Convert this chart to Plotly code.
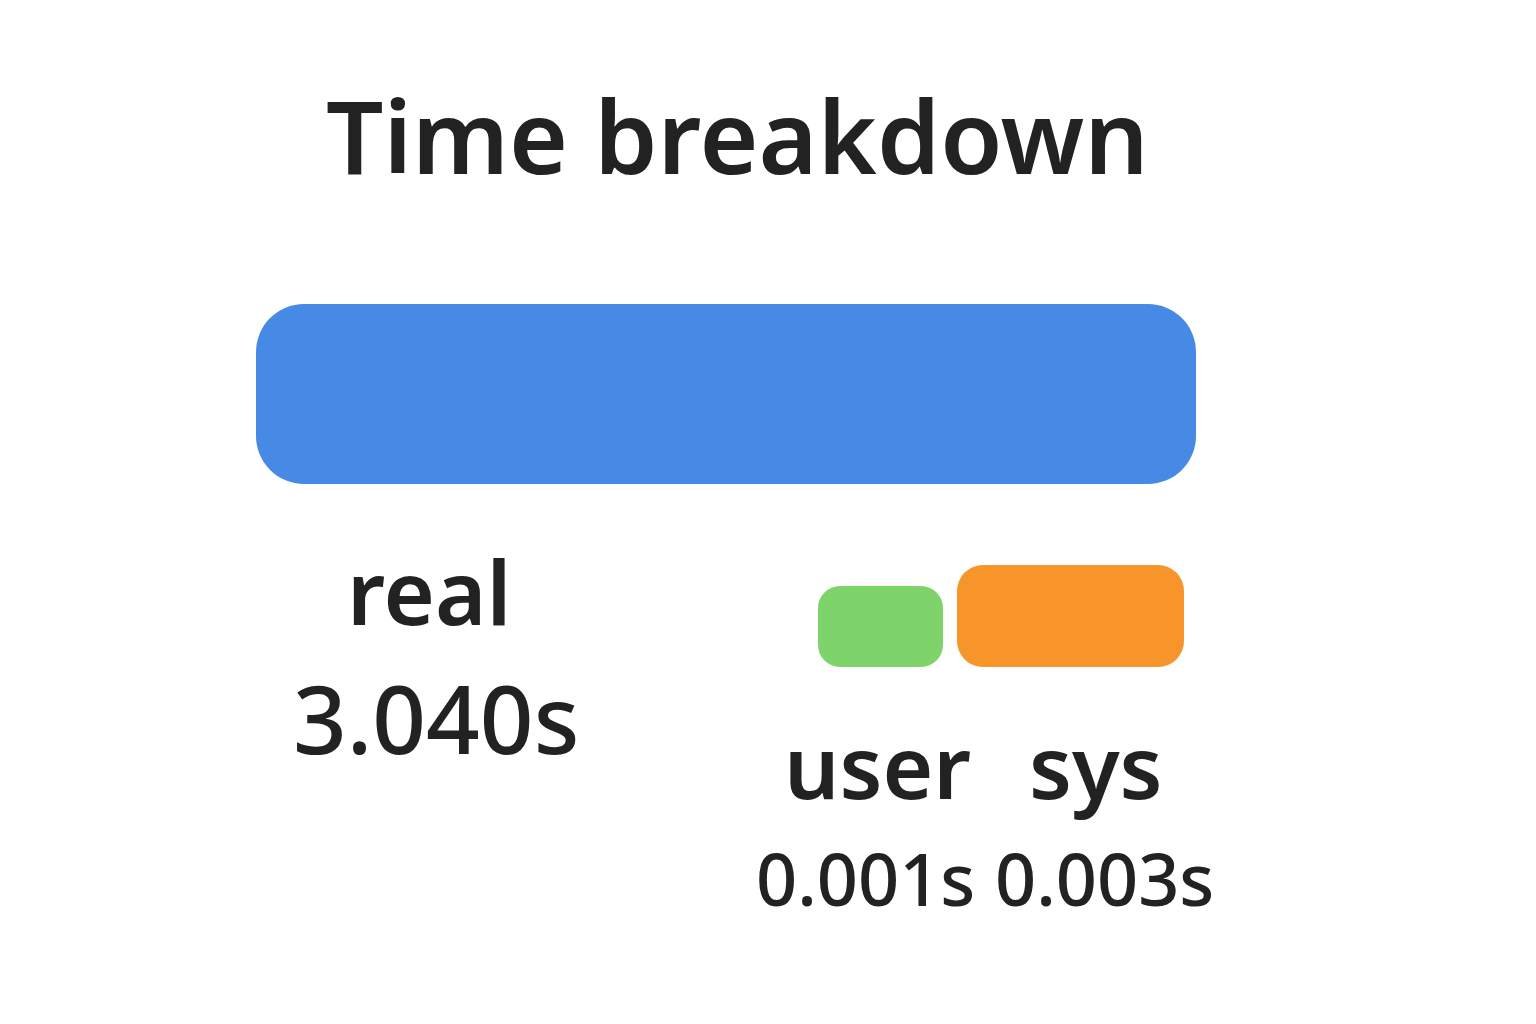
import plotly.graph_objects as go

# ---- data ----
categories = ["real", "user", "sys"]
values = [3.040, 0.001, 0.003]
value_labels = ["3.040s", "0.001s", "0.003s"]
title_text = "Time breakdown"
colors = ["#478AE6", "#7ED46A", "#F7952B"]

W, H = 1536, 1024

def px(x):
    return x / W

def py(y):
    return 1 - y / H

# layout boxes (pixels): left, right, top, bottom, corner radius
boxes = [
    (256, 1196, 304, 484, 48),
    (818, 943, 586, 667, 22),
    (957, 1184, 565, 667, 26),
]

fig = go.Figure()
layout_axes = {}
for i, (cat, val, col, box) in enumerate(zip(categories, values, colors, boxes)):
    l, r, t, b, rad = box
    n = "" if i == 0 else str(i + 1)
    xa, ya = "x" + n, "y" + n
    half = val / 2
    # right half (rounded at right end), left half (rounded at left end), middle filler
    for length, base, cr in [(half, half, rad), (-half, half, rad), (half, half / 2, 0)]:
        fig.add_trace(go.Bar(
            x=[length], y=[cat], base=[base], orientation="h", width=[1],
            marker=dict(color=col, line=dict(width=0), cornerradius=cr),
            xaxis=xa, yaxis=ya, showlegend=False, hoverinfo="skip",
        ))
    layout_axes["xaxis" + n] = dict(domain=[px(l), px(r)], range=[0, val], visible=False,
                                   anchor=ya, fixedrange=True)
    layout_axes["yaxis" + n] = dict(domain=[py(b), py(t)], range=[-0.5, 0.5], visible=False,
                                   anchor=xa, fixedrange=True, type="category")

FONT = "Noto Sans"
TXT = "#222222"
ann = []
ann.append(dict(text=title_text, x=px(737), y=py(135), size=101, weight=600))
name_pos = [(429, 591, 88), (877, 765, 87), (1095, 765, 87)]
val_pos = [(436, 718, 94), (865, 878, 72), (1104, 878, 72)]
for cat, (x, y, s) in zip(categories, name_pos):
    ann.append(dict(text=cat, x=px(x), y=py(y), size=s, weight=600))
for lab, (x, y, s) in zip(value_labels, val_pos):
    ann.append(dict(text=lab, x=px(x), y=py(y), size=s, weight=500))

fig.update_layout(
    width=W, height=H,
    margin=dict(l=0, r=0, t=0, b=0),
    paper_bgcolor="white", plot_bgcolor="rgba(0,0,0,0)",
    barmode="overlay",
    annotations=[dict(text=a["text"], x=a["x"], y=a["y"], xref="paper", yref="paper",
                      xanchor="center", yanchor="middle", showarrow=False,
                      font=dict(family=FONT, size=a["size"], color=TXT, weight=a["weight"]))
                 for a in ann],
    **layout_axes,
)

fig.write_html("out.html")
